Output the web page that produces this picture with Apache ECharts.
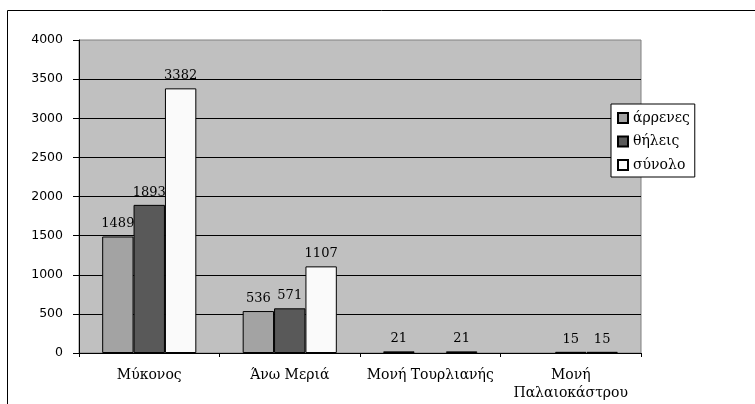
<!DOCTYPE html>
<html>
<head>
<meta charset="utf-8">
<script src="https://cdn.jsdelivr.net/npm/echarts@6/dist/echarts.min.js"></script>
<style>html,body{margin:0;padding:0;background:#fff}#c{width:755px;height:404px}</style>
</head>
<body>
<div id="c"></div>
<script>
var categories = ['Μύκονος', 'Άνω Μεριά', 'Μονή Τουρλιανής', 'Μονή\nΠαλαιοκάστρου'];
var seriesNames = ['άρρενες', 'θήλεις', 'σύνολο'];
var arrenes = [1489, 536, 21, null];
var thileis = [1893, 571, null, 15];
var synolo = [3382, 1107, 21, 15];
var yTicks = [0, 500, 1000, 1500, 2000, 2500, 3000, 3500, 4000];

var colors = ['#A3A3A3', '#595959', '#FAFAFA'];
var serif = '"DejaVu Serif", "Liberation Serif", serif';
var sans = '"DejaVu Sans", "Liberation Sans", sans-serif';

function mk(name, data, color) {
  return {
    name: name, type: 'bar', data: data,
    barGap: '0%', barCategoryGap: '33%',
    itemStyle: { color: color, borderColor: '#000', borderWidth: 1 },
    label: { show: true, position: 'top', distance: 6, color: '#000', fontFamily: serif, fontSize: 13 },
    emphasis: { disabled: true }
  };
}

var chart = echarts.init(document.getElementById('c'), null, { renderer: 'canvas' });
chart.setOption({
  animation: false,
  backgroundColor: '#fff',
  graphic: [{
    type: 'rect', shape: { x: 7.5, y: 10.5, width: 900, height: 600 },
    style: { fill: null, stroke: '#000', lineWidth: 1 }, silent: true, z: -10
  }],
  grid: {
    left: 79, right: 114, top: 40, bottom: 51,
    show: true, backgroundColor: '#C0C0C0', borderColor: '#808080', borderWidth: 1
  },
  legend: {
    orient: 'vertical', left: 611, top: 104,
    data: seriesNames,
    backgroundColor: '#fff', borderColor: '#000', borderWidth: 1,
    padding: [7, 5, 5, 6], itemGap: 9.5, itemWidth: 10, itemHeight: 10,
    icon: 'rect',
    textStyle: { fontFamily: serif, fontSize: 14, color: '#000', lineHeight: 14 }
  },
  xAxis: {
    type: 'category', data: categories,
    axisLine: { lineStyle: { color: '#000' } },
    axisTick: { show: true, length: 4, lineStyle: { color: '#000' } },
    axisLabel: { color: '#000', fontFamily: serif, fontSize: 14, margin: 13, lineHeight: 18, interval: 0 }
  },
  yAxis: {
    type: 'value', min: 0, max: 4000, interval: 500,
    axisLine: { show: true, lineStyle: { color: '#000' } },
    axisTick: { show: true, length: 6, lineStyle: { color: '#000' } },
    splitLine: { show: true, showMaxLine: false, lineStyle: { color: '#000', width: 1 } },
    axisLabel: { color: '#000', fontFamily: sans, fontSize: 12.5, margin: 16,
      formatter: function (v) { return yTicks.indexOf(v) >= 0 ? String(v) : ''; } }
  },
  series: [mk(seriesNames[0], arrenes, colors[0]), mk(seriesNames[1], thileis, colors[1]), mk(seriesNames[2], synolo, colors[2])]
});
</script>
</body>
</html>
